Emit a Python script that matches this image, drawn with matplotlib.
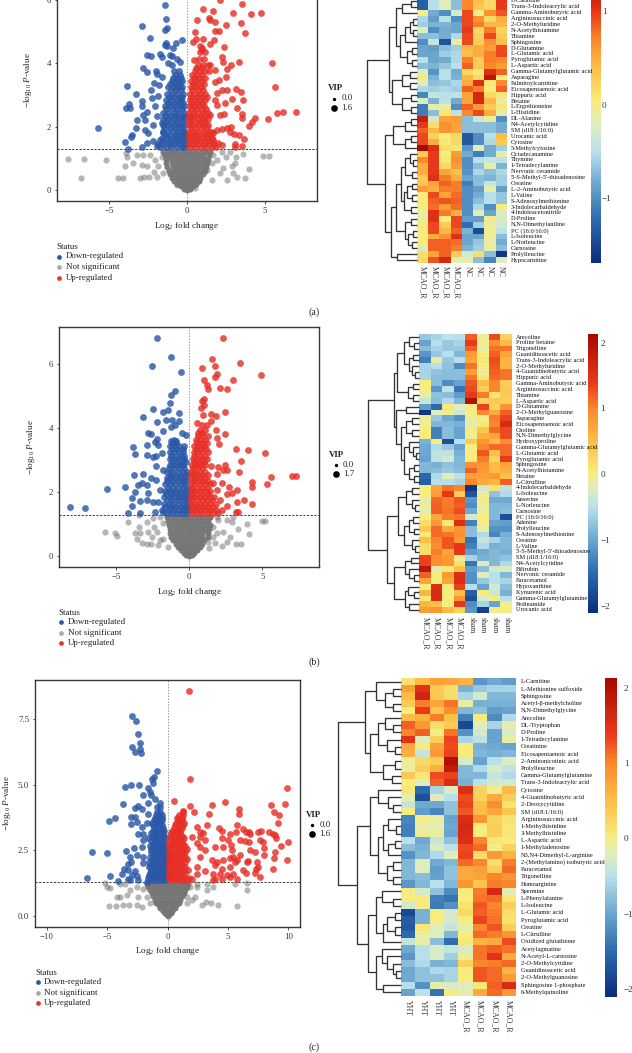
import numpy as np
import matplotlib
matplotlib.use("Agg")
import matplotlib.pyplot as plt
from matplotlib.colors import LinearSegmentedColormap, Normalize

W, H = 632, 1053
plt.rcParams['font.family'] = ['Liberation Serif', 'DejaVu Serif']
plt.rcParams['mathtext.fontset'] = 'custom'
plt.rcParams['mathtext.rm'] = 'Liberation Serif'
plt.rcParams['mathtext.it'] = 'Liberation Serif:italic'
plt.rcParams['mathtext.bf'] = 'Liberation Serif:bold'
TXT = '#222222'

# ---------------- volcano data: scattered points ----------------
a_down = [(-1.41,5.85),(-1.35,5.41),(-2.86,5.17),(-1.28,5.12),(-1.39,5.04),(-2.33,4.81),(-.32,4.73),(-.68,4.64),(-1.35,4.64),(-1.39,4.57),(-1.28,4.54),(-.9,4.48),(-2.56,4.26),(-2.31,4.25),(-1.69,4.31),(-1.58,4.2),(-1.07,4.27),(-.96,4.24),(-.62,4.15),(-.43,4.03),(-1.18,4.01),(-.96,3.96),(-2.78,3.85),(-2.54,3.72),(-1.97,3.77),(-1.88,3.67),(-1.6,3.57),(-3.82,3.29),(-3.25,3.05),(-2.31,3.17),(-2.09,3.38),(-1.75,3.33),(-2.9,2.82),(-3.68,2.71),(-3.91,2.6),(-3.63,2.59),(-2.88,2.66),(-2.03,2.66),(-2.56,2.48),(-2.82,2.38),(-2.24,2.91),(-1.82,2.96),(-3.16,2.2),(-3.25,1.95),(-5.68,1.97),(-2.65,2.22),(-2.14,2.06),(-2.67,1.91),(-3.53,1.75),(-3.57,1.69),(-3.93,1.51),(-3.74,1.31),(-2.86,1.37),(-2.46,1.8),(-2.14,1.54),(-2.56,1.48),(-1.92,1.38),(-1.71,1.59),(-1.5,1.85),(-1.56,2.12),(-1.92,2.33)]
a_up = [(3.57,5.88),(2.14,6.0),(1.05,5.72),(1.71,5.67),(2.97,5.58),(4.12,5.56),(4.79,5.58),(.66,5.38),(1.41,5.43),(1.79,5.32),(3.5,5.29),(2.5,5.22),(1.5,5.38),(1.82,5.03),(2.05,5.01),(3.76,4.96),(.53,4.98),(.6,4.77),(1.07,4.77),(1.73,4.75),(.38,4.67),(1.5,4.62),(2.39,4.51),(.85,4.54),(.96,4.43),(2.24,4.2),(2.31,4.06),(.49,4.11),(3.33,4.05),(5.45,4.02),(2.84,3.95),(2.61,3.83),(1.82,3.78),(1.5,3.96),(2.52,3.57),(2.05,3.48),(1.82,3.43),(5.66,3.25),(3.16,3.2),(3.46,3.11),(2.56,3.17),(2.24,3.15),(1.92,3.06),(1.82,2.85),(2.93,2.88),(3.59,2.84),(2.46,2.75),(1.92,2.69),(3.23,2.58),(7.03,2.48),(6.15,2.47),(5.77,2.45),(5.21,2.25),(4.36,2.29),(3.55,2.4),(3.57,2.29),(2.39,2.41),(2.14,2.38),(1.5,2.38),(4.17,2.15),(4.02,2.02),(2.56,1.96),(2.82,1.99),(2.24,1.93),(1.92,1.91),(2.74,1.85),(3.06,1.76),(3.33,1.75),(3.65,1.61),(3.1,1.45),(3.53,1.38),(3.1,1.37),(2.03,1.48),(2.24,1.43),(1.71,1.59),(1.71,1.8)]
a_ns = [(-7.63,.99),(-6.6,.98),(-5.21,.95),(-6.75,.4),(-4.44,.4),(-4.08,.39),(-3.97,.76),(-3.89,1.17),(-3.85,1.06),(-3.42,.85),(-3.03,.4),(-2.71,.43),(-2.39,.43),(-3.21,1.12),(-2.78,1.12),(-2.35,1.12),(-2.88,.8),(-2.56,.75),(-2.03,.96),(-2.09,.59),(-1.82,.75),(-1.92,.43),(-1.6,1.06),(-1.5,.54),(-.64,.17),(4.89,1.08),(5.3,1.09),(3.59,1.15),(4.02,.67),(3.76,.39),(3.16,1.06),(3.1,.85),(2.88,.75),(3.21,.43),(2.56,.33),(2.99,.54),(2.14,.54),(2.35,.7),(2.52,1.06),(2.78,1.22),(1.71,1.12),(1.92,.96),(1.6,.85),(1.28,.64),(1.6,.33),(.53,.06),(2.24,1.22)]

b_down = [(-2.21,6.83),(-1.23,6.23),(-2.53,5.95),(-.59,5.76),(-1.0,5.16),(-1.23,5.05),(-1.34,4.81),(-2.46,4.61),(-1.48,4.59),(-1.78,4.5),(-.68,4.47),(-3.14,4.36),(-2.23,4.19),(-1.59,4.26),(-1.21,4.26),(-.73,4.22),(-.98,4.1),(-1.28,4.03),(-1.82,3.93),(-2.82,3.85),(-2.62,3.81),(-.52,3.86),(-.25,3.78),(-2.19,3.66),(-2.35,3.58),(-2.87,3.47),(-2.16,3.48),(-3.85,3.42),(-3.71,3.19),(-2.92,3.17),(-2.51,3.11),(-2.28,3.14),(-1.89,3.22),(-2.28,2.84),(-3.8,2.54),(-3.14,2.58),(-5.65,2.11),(-4.4,2.18),(-3.51,2.22),(-3.26,2.3),(-2.92,2.23),(-2.64,2.44),(-2.3,2.39),(-3.69,2.0),(-3.9,1.82),(-3.35,1.73),(-2.92,1.76),(-3.9,1.57),(-8.18,1.53),(-7.15,1.52),(-4.21,1.36),(-3.39,1.36),(-2.8,1.97),(-2.46,1.71),(-2.35,1.4),(-1.78,1.4),(-2.0,2.07),(-2.12,1.71),(-1.78,2.7)]
b_up = [(2.32,6.83),(1.53,6.17),(3.46,6.04),(1.73,5.95),(.89,5.88),(1.89,5.71),(4.9,5.68),(1.75,5.6),(3.0,5.52),(1.03,5.5),(1.23,5.35),(1.25,5.23),(2.1,5.26),(2.57,5.22),(1.0,4.92),(.84,4.85),(.98,4.73),(.8,4.63),(2.41,4.5),(1.46,4.45),(.96,4.42),(1.8,4.38),(1.46,4.23),(.55,4.16),(1.82,3.95),(2.41,3.82),(1.87,3.69),(2.03,3.51),(3.19,3.36),(3.99,3.32),(5.19,3.24),(3.55,2.99),(1.46,2.83),(2.41,2.86),(3.37,2.64),(1.98,2.8),(2.32,2.7),(2.6,2.7),(5.56,2.48),(7.02,2.51),(7.33,2.51),(4.31,2.34),(4.31,2.18),(5.33,2.27),(2.73,2.16),(3.28,2.08),(2.55,1.95),(2.89,1.97),(3.71,1.77),(3.28,1.71),(4.28,1.63),(2.55,1.57),(3.19,1.39),(3.33,1.39),(2.21,2.28),(1.87,2.07),(2.1,1.76),(2.21,1.45),(1.64,2.28),(1.87,2.59)]
b_ns = [(-4.17,1.08),(-5.74,.77),(-5.08,.74),(-4.94,.65),(-3.71,.72),(-3.6,.56),(-3.26,.41),(-2.92,.39),(-2.64,.39),(-3.42,1.29),(-3.42,.93),(-2.92,1.08),(-2.46,1.19),(-2.41,.93),(-2.8,.77),(-2.23,.77),(-2.57,.61),(-2.0,.51),(-2.12,.35),(-1.78,.56),(-1.44,.3),(-1.78,1.03),(-2.0,1.24),(-3.37,.72),(4.94,1.1),(5.17,1.1),(3.92,1.01),(3.35,.87),(4.1,.7),(3.19,.39),(3.51,.38),(2.78,.61),(2.55,.46),(2.21,.33),(1.75,.43),(1.37,.25),(1.3,.46),(1.87,.72),(2.32,.77),(1.64,.93),(1.98,1.14),(2.55,1.14),(3.0,1.24),(2.89,1.08),(1.87,1.24),(1.41,1.24),(1.64,.61),(1.18,.72)]

c_down = [(-2.93,7.62),(-2.6,7.42),(-2.49,6.94),(-2.27,6.61),(-2.98,6.45),(-2.29,6.38),(-2.68,6.25),(-2.18,6.21),(-.86,5.54),(-1.13,5.3),(-1.33,5.24),(-1.24,5.08),(-3.07,4.99),(-2.38,4.98),(-3.54,4.92),(-1.6,4.89),(-1.46,4.73),(-2.04,4.6),(-1.41,4.6),(-1.05,4.47),(-.64,4.31),(-1.66,4.31),(-3.7,4.27),(-2.46,4.18),(-2.73,4.1),(-2.13,4.08),(-1.6,3.9),(-3.07,3.77),(-2.68,3.77),(-4.36,3.74),(-4.83,3.6),(-3.07,3.52),(-2.51,3.58),(-1.74,3.55),(-2.15,3.37),(-2.43,3.14),(-2.02,3.14),(-2.02,2.88),(-1.6,2.95),(-2.82,2.58),(-6.24,2.45),(-5.0,2.4),(-3.45,2.48),(-2.15,2.63),(-2.51,2.31),(-3.12,2.25),(-2.07,2.25),(-3.07,2.06),(-3.26,1.99),(-2.02,2.0),(-3.62,1.8),(-3.29,1.74),(-2.71,1.72),(-3.81,1.61),(-4.81,1.5),(-6.66,1.45),(-2.98,1.55),(-2.51,1.51),(-4.14,1.33),(-3.12,1.36),(-2.43,1.36),(-1.74,1.3),(-3.26,1.42)]
c_up = [(1.74,8.59),(1.85,5.22),(9.92,4.89),(.52,4.4),(4.75,4.35),(1.85,4.18),(3.65,4.21),(8.56,4.24),(9.75,4.26),(5.94,4.08),(5.91,3.89),(3.43,3.88),(8.78,3.96),(9.25,3.86),(2.15,3.95),(1.24,3.99),(9.14,3.56),(3.29,3.47),(5.77,3.48),(2.43,3.38),(4.28,3.35),(4.48,3.23),(6.22,3.33),(6.46,3.2),(6.77,3.19),(7.76,3.23),(8.37,3.21),(7.46,3.18),(5.64,3.19),(5.17,3.14),(2.68,3.2),(2.96,3.16),(8.76,3.11),(8.9,3.07),(6.82,3.14),(2.68,3.01),(3.09,2.88),(1.99,3.01),(4.48,2.95),(5.03,2.88),(6.0,2.88),(6.41,2.86),(6.77,2.82),(7.65,2.88),(7.93,2.82),(8.98,2.95),(9.97,2.8),(9.36,2.66),(3.92,2.63),(4.61,2.63),(5.22,2.69),(5.3,2.5),(6.82,2.5),(7.98,2.57),(8.92,2.45),(8.01,2.31),(7.24,2.44),(3.09,2.5),(2.68,2.63),(2.4,2.76),(9.86,2.13),(8.84,2.2),(3.65,2.12),(4.06,2.06),(4.56,2.12),(5.17,2.19),(5.72,2.12),(6.69,2.1),(7.38,2.06),(5.44,2.25),(6.0,2.31),(2.68,2.25),(2.4,1.87),(3.09,1.7),(3.92,1.93),(4.48,1.8),(5.17,1.87),(5.58,2.06),(6.27,1.74),(6.6,2.06),(7.32,1.78),(8.73,1.78),(7.51,1.87),(3.78,1.59),(4.34,1.61),(4.89,1.55),(5.44,1.61),(6.49,1.65),(7.24,1.64),(7.68,1.49),(2.4,1.59),(1.99,1.4),(3.78,1.36),(4.48,1.39),(5.17,1.49),(5.77,1.4),(3.92,1.39)]
c_ns = [(-5.19,1.26),(-5.0,1.11),(-4.78,1.07),(-4.83,.39),(-4.25,.39),(-3.67,.43),(-3.4,.79),(-4.23,.7),(-3.95,.72),(-3.12,.98),(-3.18,.41),(-2.57,.41),(-2.15,.34),(-2.43,.72),(-2.02,1.04),(-2.57,1.11),(-3.54,1.23),(-1.74,.72),(-1.46,.47),(-3.95,1.23),(6.57,1.26),(6.6,.98),(5.61,1.23),(5.72,.39),(4.2,.43),(3.78,1.11),(3.23,.98),(3.23,1.23),(3.56,.5),(3.18,.53),(2.82,.43),(2.4,1.11),(2.27,.72),(1.99,.6),(1.57,.47),(1.85,1.11),(2.4,1.23),(1.57,.72)]

# ---------------- volcano data: dense cores, (y, [x...]) rows ----------------
a_down_core = [(1.35,[-1.7,-1.35,-1.0,-.65,-.3,-.15]),(1.45,[-1.85,-1.5,-1.15,-.8,-.45,-.12]),(1.55,[-1.5,-1.15,-.8,-.5,-.2]),(1.65,[-1.6,-1.25,-.9,-.6,-.3,-.12]),(1.75,[-1.4,-1.05,-.7,-.35,-.18]),(1.85,[-1.55,-1.2,-.85,-.55,-.25,-.12]),(1.95,[-1.45,-1.1,-.8,-.5,-.22]),(2.05,[-1.55,-1.2,-.85,-.5,-.15]),(2.15,[-1.35,-1.0,-.65,-.3]),(2.25,[-1.5,-1.2,-.85,-.5,-.15]),(2.35,[-1.4,-1.1,-.75,-.45,-.2]),(2.45,[-1.5,-1.2,-.85,-.55,-.15]),(2.55,[-1.3,-.95,-.6,-.28]),(2.65,[-1.4,-1.1,-.75,-.4,-.2]),(2.75,[-1.2,-.85,-.5,-.25]),(2.85,[-1.3,-1.0,-.65,-.35]),(2.95,[-1.15,-.8,-.45,-.3]),(3.05,[-1.25,-.95,-.6,-.25]),(3.15,[-1.0,-.7,-.4]),(3.25,[-1.2,-.85,-.55,-.3]),(3.35,[-1.05,-.75,-.45]),(3.45,[-.95,-.6,-.3]),(3.55,[-.9,-.6,-.35]),(3.65,[-.75,-.45]),(3.75,[-.8,-.5])]
a_up_core = [(1.35,[.2,.55,.9,1.25,1.6,1.85]),(1.45,[.12,.4,.75,1.1,1.4,1.75]),(1.55,[.2,.5,.85,1.2,1.5]),(1.65,[.12,.35,.65,1.0,1.3,1.6]),(1.75,[.15,.45,.8,1.15,1.45]),(1.85,[.12,.4,.75,1.1,1.4,1.6]),(1.95,[.25,.6,.95,1.3]),(2.05,[.15,.35,.7,1.05,1.35]),(2.15,[.15,.5,.85,1.2]),(2.25,[.12,.35,.7,1.05,1.35]),(2.35,[.2,.55,.9,1.2]),(2.45,[.15,.4,.75,1.05,1.35]),(2.55,[.25,.6,.95,1.25]),(2.65,[.2,.45,.8,1.1]),(2.75,[.3,.65,1.0]),(2.85,[.2,.5,.85,1.15]),(2.95,[.3,.65,1.0,1.3]),(3.05,[.2,.5,.85,1.15]),(3.15,[.35,.7,1.05]),(3.25,[.25,.55,.9]),(3.35,[.4,.75,1.1]),(3.45,[.3,.6,.95]),(3.55,[.45,.8,1.15]),(3.65,[.35,.65,1.0]),(3.75,[.5,.85,1.2,1.45]),(3.85,[.6,.95]),(3.95,[.7,1.05,1.35]),(4.15,[.8,1.1]),(4.35,[.85,1.15]),(4.5,[.95])]
a_ns_core = [(1.22,[-1.5,-1.2,-.9,-.6,-.3,0,.3,.6,.9,1.2,1.5]),(1.1,[-1.4,-1.05,-.75,-.45,-.15,.15,.45,.75,1.05,1.4]),(.98,[-1.35,-1.0,-.7,-.4,-.1,.2,.5,.8,1.1,1.35]),(.86,[-1.3,-.95,-.65,-.35,-.05,.25,.55,.85,1.15,1.3]),(.74,[-1.25,-.9,-.6,-.3,0,.3,.6,.9,1.25]),(.62,[-1.15,-.85,-.55,-.25,.05,.35,.65,.95,1.15]),(.5,[-1.05,-.75,-.45,-.15,.15,.45,.75,1.05]),(.4,[-.95,-.65,-.35,-.05,.25,.55,.85]),(.3,[-.8,-.5,-.2,.1,.4,.7,.8]),(.2,[-.6,-.3,0,.3,.6]),(.12,[-.4,-.15,.15,.4]),(.05,[-.2,0,.2]),(.01,[0])]

b_down_core = [(1.35,[-1.55,-1.2,-.85,-.5,-.2]),(1.45,[-1.85,-1.4,-1.05,-.7,-.35,-.12]),(1.55,[-1.65,-1.3,-.95,-.6,-.3,-.12]),(1.65,[-1.75,-1.4,-1.1,-.75,-.4,-.15]),(1.75,[-1.5,-1.15,-.8,-.45,-.15]),(1.85,[-1.7,-1.35,-1.0,-.7,-.35,-.12]),(1.95,[-1.6,-1.25,-.9,-.55,-.2]),(2.05,[-1.65,-1.3,-.95,-.6,-.25]),(2.15,[-1.45,-1.1,-.75,-.4,-.15]),(2.25,[-1.65,-1.3,-.95,-.6,-.3]),(2.35,[-1.5,-1.15,-.8,-.45,-.2]),(2.45,[-1.55,-1.3,-1.0,-.65,-.3]),(2.55,[-1.3,-.95,-.6,-.25]),(2.65,[-1.5,-1.15,-.8,-.45,-.15]),(2.75,[-1.4,-1.05,-.7,-.35]),(2.85,[-1.35,-1.0,-.65,-.4]),(2.95,[-1.2,-.85,-.5,-.25]),(3.05,[-1.35,-1.05,-.7,-.35]),(3.15,[-1.25,-.9,-.55,-.35]),(3.25,[-1.35,-1.05,-.7,-.4]),(3.35,[-1.15,-.85,-.45]),(3.45,[-1.3,-1.0,-.7,-.35]),(3.55,[-1.2,-.9]),(3.6,[-1.25,-.9]),(3.65,[-1.05])]
b_up_core = [(1.35,[.2,.55,.9,1.25,1.6,1.95]),(1.45,[.1,.4,.75,1.1,1.45,1.8]),(1.55,[.25,.6,.95,1.3,1.65]),(1.65,[.1,.4,.75,1.1,1.45,1.85]),(1.75,[.15,.5,.85,1.2,1.55]),(1.85,[.1,.35,.7,1.05,1.4,1.7]),(1.95,[.2,.55,.9,1.25]),(2.05,[.1,.35,.7,1.05,1.4]),(2.15,[.2,.5,.85,1.2]),(2.25,[.12,.35,.7,1.05,1.4]),(2.35,[.25,.6,.95,1.3]),(2.45,[.12,.4,.75,1.1]),(2.55,[.2,.55,.9,1.25]),(2.65,[.15,.4,.75,1.1]),(2.75,[.25,.55,.9]),(2.85,[.2,.45,.75,1.1]),(2.95,[.3,.65,1.0]),(3.05,[.25,.5,.85,1.2]),(3.15,[.35,.7,1.05]),(3.25,[.3,.55,.9,1.3]),(3.35,[.45,.8,1.15]),(3.45,[.35,.65,1.0]),(3.55,[.5,.85,1.2]),(3.65,[.45,.75,1.1]),(3.75,[.6,.95,1.25]),(3.85,[.6,.9]),(3.95,[.75,1.05]),(4.1,[.9,1.2])]
b_ns_core = [(1.22,[-1.5,-1.2,-.9,-.6,-.3,0,.3,.6,.9,1.2,1.45]),(1.1,[-1.45,-1.1,-.8,-.5,-.2,.1,.4,.7,1.0,1.3]),(.98,[-1.4,-1.05,-.75,-.45,-.15,.15,.45,.75,1.05,1.4]),(.86,[-1.35,-1.0,-.7,-.4,-.1,.2,.5,.8,1.1,1.35]),(.74,[-1.3,-.95,-.65,-.35,-.05,.25,.55,.85,1.3]),(.62,[-1.25,-.9,-.6,-.3,0,.3,.6,.9,1.25]),(.5,[-1.1,-.8,-.5,-.2,.1,.4,.7,1.0]),(.4,[-.9,-.6,-.3,0,.3,.6,.9]),(.3,[-.75,-.45,-.15,.15,.45,.75]),(.2,[-.55,-.25,.05,.3,.55]),(.12,[-.35,-.1,.15,.35]),(.05,[-.2,0,.2]),(.01,[0])]

c_down_core = [(1.35,[-1.45,-1.1,-.8,-.5,-.2]),(1.45,[-1.65,-1.3,-.95,-.65,-.35,-.12]),(1.55,[-1.55,-1.25,-.9,-.55,-.15]),(1.65,[-1.5,-1.15,-.8,-.45,-.12]),(1.75,[-1.35,-1.0,-.65,-.3]),(1.85,[-1.55,-1.2,-.9,-.55,-.25]),(1.95,[-1.45,-1.1,-.75,-.35,-.15]),(2.05,[-1.55,-1.2,-.85,-.5,-.12]),(2.15,[-1.3,-.95,-.6,-.25]),(2.25,[-1.45,-1.1,-.75,-.4,-.15]),(2.35,[-1.2,-.85,-.5,-.2]),(2.45,[-1.4,-1.05,-.7,-.35,-.15]),(2.55,[-1.35,-1.0,-.65,-.3]),(2.65,[-1.5,-1.15,-.8,-.45,-.2]),(2.75,[-1.25,-.9,-.55,-.25]),(2.85,[-1.4,-1.05,-.7,-.4]),(2.95,[-1.15,-.8,-.45,-.25]),(3.05,[-1.3,-.95,-.6,-.3]),(3.15,[-1.35,-1.0,-.65,-.35]),(3.25,[-1.2,-.85,-.5,-.3]),(3.35,[-1.1,-.75,-.4]),(3.45,[-1.2,-.85,-.5]),(3.55,[-1.3,-.95,-.6]),(3.65,[-1.15,-.8,-.5]),(3.75,[-1.05,-.7,-.45]),(3.85,[-1.0,-.7,-.45]),(3.95,[-.9,-.6]),(4.15,[-.85,-.6])]
c_up_core = [(1.35,[.2,.55,.9,1.25,1.6]),(1.45,[.1,.35,.7,1.05,1.4,1.75]),(1.55,[.15,.5,.85,1.2]),(1.65,[.1,.4,.75,1.1,1.45]),(1.75,[.25,.6,.95,1.3,1.65]),(1.85,[.1,.35,.7,1.05,1.4]),(1.95,[.15,.5,.85,1.2]),(2.05,[.1,.35,.7,1.05,1.4]),(2.15,[.2,.55,.9,1.25,1.6]),(2.25,[.1,.4,.75,1.1,1.45]),(2.35,[.25,.6,.95,1.3]),(2.45,[.12,.4,.75,1.1,1.45]),(2.55,[.2,.55,.9,1.25,1.6]),(2.65,[.12,.4,.75,1.1,1.45]),(2.75,[.25,.6,.95,1.3]),(2.85,[.15,.45,.8,1.15]),(2.95,[.3,.65,1.0,1.35]),(3.05,[.2,.5,.85,1.2]),(3.15,[.3,.65,1.0]),(3.25,[.4,.75,1.05]),(3.35,[.55,.9,1.2]),(3.45,[.6,.95,1.25]),(3.55,[.7,1.05,1.35]),(3.65,[.85,1.2]),(3.75,[.75,1.15]),(3.85,[.95,1.25]),(3.95,[1.3])]
c_ns_core = [(1.22,[-1.7,-1.35,-1,-.65,-.3,.05,.4,.75,1.1,1.45,1.7]),(1.1,[-1.6,-1.2,-.85,-.5,-.15,.2,.55,.9,1.25,1.6]),(.98,[-1.45,-1.1,-.75,-.4,-.05,.3,.65,1.0,1.45]),(.86,[-1.3,-.95,-.6,-.25,.1,.45,.8,1.15,1.35]),(.74,[-1.2,-.85,-.5,-.15,.2,.55,.9,1.2]),(.62,[-1.05,-.7,-.35,0,.35,.7,1.05]),(.5,[-.95,-.6,-.25,.1,.45,.8,.95]),(.4,[-.75,-.4,-.05,.3,.65]),(.3,[-.6,-.25,.1,.45,.6]),(.2,[-.4,-.1,.2,.4]),(.12,[-.25,0,.25]),(.05,[-.12,.12]),(.01,[0])]

# ---------------- heatmap data ----------------
a_rows = ["L-Carnitine","Trans-3-Indoleacrylic acid","Gamma-Aminobutyric acid","Argininosuccinic acid","2'-O-Methyluridine","N-Acetylhistamine","Thiamine","Sphingosine","D-Glutamine","L-Glutamic acid","Pyroglutamic acid","L-Aspartic acid","Gamma-Glutamylglutamic acid","Asparagine","Palmitoylcarnitine","Eicosapentaenoic acid","Hippuric acid","Betaine","L-Ergothioneine","L-Histidine","DL-Alanine","N4-Acetylcytidine","SM (d18:1/16:0)","Urocanic acid","Cytosine","5-Methylcytosine","Octadecanamine","Thymine","1-Tetradecylamine","Nervonic ceramide","5'-S-Methyl-5'-thioadenosine","Creatine","L-2-Aminobutyric acid","L-Valine","S-Adenosylmethionine","3-Indolecarbaldehyde","4-Indoleacetonitrile","D-Proline","N,N-Dimethylaniline","PC (16:0/16:0)","L-Isoleucine","L-Norleucine","Carnosine","Prolylleucine","Hypocarnitine"]
a_vals = [[-1.3,-.5,-.2,-.7,.7,.4,.2,1.0],[-1.3,-.5,-.2,-.7,.7,.35,.2,1.0],[0,-.8,-1.0,-.3,.95,0,.65,.9],[-.55,-.9,-.5,-1,.95,.65,.2,.5],[-.6,-.75,-.75,-.85,.95,.75,.45,.45],[-.2,-1,-.8,-.85,1.0,.2,.75,.25],[-.7,-.7,-.8,-.55,.95,.25,.95,.3],[-1,-.4,-1.4,-.1,.95,.3,.65,.4],[-.85,-.9,-.7,-.6,.45,.5,.6,.95],[-.85,-.85,-.6,-.55,.4,.5,.75,.95],[-.5,-.85,-.8,-.55,.75,.3,.75,.7],[-.7,-.75,-.65,-.5,.85,.3,.7,.6],[-.2,-.95,-.5,-.8,.2,.1,1.05,.85],[.05,-.75,-.5,-.75,.45,.2,1.2,.05],[-.15,-.7,-.65,-.55,.5,1.05,.1,.7],[-.55,-.6,-.55,-.6,.85,.75,.05,.85],[-1.05,-.4,-.5,-.45,.55,1.1,.2,.1],[-.25,-.75,-.45,-.8,.55,1.1,.45,-.1],[-1.1,-.1,-.1,-1,.85,.6,.3,.1],[-1.1,-.7,.1,-.45,.7,.95,.5,-.1],[1.15,-.3,.55,.6,-.7,-.35,-.05,-1],[1.0,.15,.65,.55,-.7,-.7,-.7,-.8],[.85,.45,.65,.55,-.7,-.7,-.7,-.8],[.95,.25,.05,.2,-1.35,-1.0,-.5,.4],[.95,.5,.1,.2,-1.35,-1,-.55,.3],[1.3,1.05,.15,.1,-.95,-.2,-.8,-.6],[.3,1.0,.05,.6,-.8,-1.1,-.8,-.15],[.7,1.0,.1,.65,-1,-.5,-.4,-.45],[.5,1.0,.2,.6,-1,-.7,-.15,-.75],[.5,1,.55,.4,-.95,-.55,-.7,-.55],[.3,1.05,.75,.5,-.85,-.7,-.75,-.6],[.35,.55,.85,.75,-1.1,-.7,-.4,-.6],[.6,.5,.75,.75,-1,-.9,-.15,-.9],[.05,.95,.55,.8,-1,-.8,-.5,-.65],[.05,.85,.9,.85,-1,-.7,-.5,-.65],[.05,.8,.6,.8,-1,-.55,-1,.05],[-.1,1.05,.75,.5,-1,-.2,-.85,-.25],[-.1,1.05,.05,.95,-.9,-.9,0,-.25],[.05,.95,.3,.95,-1.2,-.6,-.1,-.3],[.05,.95,.45,.85,-.75,-1.45,-.05,-.45],[.05,.5,.65,1.05,-.85,-.85,-.05,-.7],[.05,.85,.85,.8,-.85,-.65,-.1,-.8],[-.25,.85,.85,.75,-.75,-.6,-.1,-.7],[.15,.55,.85,.3,-.3,.15,-.7,-1.6],[.2,.9,1.1,-.15,-.15,-.7,-1.05,-.2]]
a_cols = ["MCAO_R"]*4 + ["NC"]*4

b_rows = ["Arecoline","Proline betaine","Trigonelline","Guanidinoacetic acid","Trans-3-Indoleacrylic acid","2'-O-Methyluridine","4-Guanidinobutyric acid","Hippuric acid","Gamma-Aminobutyric acid","Argininosuccinic acid","Thiamine","L-Aspartic acid","D-Glutamine","2'-O-Methylguanosine","Asparagine","Eicosapentaenoic acid","Choline","N,N-Dimethylglycine","Hydroxyproline","Gamma-Glutamylglutamic acid","L-Glutamic acid","Pyroglutamic acid","Sphingosine","N-Acetylhistamine","Betaine","L-Citrulline","4-Indolecarbaldehyde","L-Isoleucine","Anserine","L-Norleucine","Carnosine","PC (16:0/16:0)","Adenine","Prolylleucine","S-Adenosylmethionine","Creatine","L-Valine","5'-S-Methyl-5'-thioadenosine","SM (d18:1/16:0)","N4-Acetylcytidine","Bilirubin","Nervonic ceramide","Paracetamol","Hypoxanthine","Kynurenic acid","Gamma-Glutamylglutamine","Pedinamide","Urocanic acid"]
b_vals = [[-.7,-.6,-.45,-.5,1.2,-.1,1.3,.3],[-1.0,-.5,-.7,-.6,1.4,0,.95,.55],[-.8,-.6,-.7,-.7,1.2,-.1,1.1,1.1],[-1.1,-.7,-.5,-.85,.85,.05,1.2,.75],[-1.3,-.1,-.7,-.5,.75,.1,1.3,.6],[-.6,-.5,-.75,-1.2,1.1,.05,1.25,.6],[-.6,-.75,-.8,-.8,.8,-.1,1.2,1.1],[-.6,-.8,-.8,-.8,1.1,.1,1.15,1.1],[.05,-.8,-1.2,-1.0,1.25,.5,1.0,.35],[.05,-1.1,-.45,-1.4,1.3,.35,1.0,.4],[-.1,-.75,-.8,-1.05,1.4,1.05,.1,.4],[-.4,-.8,-.55,-.85,2.0,.3,.4,.35],[-1.05,-1.5,.1,-.2,0,1.35,.3,.9],[-2.0,-.2,-.05,-.35,0,1.0,.7,1.2],[-.05,-.7,-.95,-1.15,-.05,0,1.05,1.35],[-.05,-.85,-.85,-.9,-.15,.1,1.0,1.6],[.05,-1.3,-.8,-1.0,.05,.45,1.15,1.3],[.05,-1.3,-.8,-1.0,-.05,.65,.75,1.3],[-.9,.05,-1.75,-.5,.4,.9,.55,.95],[-.95,-.55,-.7,-1.0,.05,1,1.15,1.15],[-.95,-.45,-.45,-.9,.05,1.25,.5,1.15],[-1,-.45,-.3,-.85,.05,1.05,.3,1.4],[-.85,-.9,-.75,-.85,.95,.9,.55,.75],[-.85,-.8,-.7,-.8,1.2,.85,.55,.65],[-1.5,-.55,-.2,-.45,.8,.8,.85,.5],[-1.6,-.5,-.5,-.6,1.0,.7,.6,1.2],[.05,.75,1.1,1.0,-2,-.3,.15,-.45],[.05,.8,1.45,.35,-1.7,-.1,-.75,-.55],[-.15,1.15,1.05,1.25,-1.1,.05,-.95,-.95],[0,1.2,1.05,1.2,-1.2,-.1,-.85,-.85],[-.2,1.2,1.1,1.3,-.95,-.1,-.85,-.8],[.05,.7,1.05,1.1,-.3,.05,-.85,-1.75],[.2,.85,.1,1.55,-1.3,0,-1.0,-1.05],[.4,1.15,.7,.9,-.8,-.1,-1.15,-1.15],[.1,1.15,1.1,.95,-.8,-.55,-1.25,-.9],[.5,1.0,1.25,.85,-1.4,-.4,-.6,-.85],[.2,.95,1.25,1.45,-1.3,-.55,-.9,-.85],[.2,1.05,.75,1.45,-1.05,-.95,-.85,-.9],[1.35,.95,.85,-.05,-.6,-.9,-.85,-.75],[1.35,.95,.85,.15,-1.4,-.2,-.85,-.55],[1.9,-.15,.1,.5,-1.05,-.8,-.3,-.25],[1.2,.05,.85,1.55,-1.15,-.2,-.5,-.85],[.75,.05,.75,1.55,-1.15,-.7,-.5,-.6],[.05,1.55,.05,1.35,-.5,-1.0,-.3,-.8],[.6,1.6,.05,.5,-1.6,.05,-.35,-.9],[.1,1.6,.05,.9,-1.75,-.25,.05,-.5],[.6,.5,.05,1.45,-1.2,-.6,-1,0],[.8,.9,.55,.3,-1.1,-1.9,0,.05]]
b_cols = ["MCAO_R"]*4 + ["sham"]*4

c_rows = ["L-Carnitine","L-Methionine sulfoxide","Sphingosine","Acetyl-β-methylcholine","N,N-Dimethylglycine","Arecoline","DL-Tryptophan","D-Proline","1-Tetradecylamine","Creatinine","Eicosapentaenoic acid","2-Aminonicotinic acid","Prolylleucine","Gamma-Glutamylglutamine","Trans-3-Indoleacrylic acid","Cytosine","4-Guanidinobutyric acid","2'-Deoxycytidine","SM (d18:1/16:0)","Argininosuccinic acid","1-Methylhistidine","3-Methylhistidine","L-Aspartic acid","1-Methyladenosine","N3,N4-Dimethyl-L-arginine","2-(Methylamino) isobutyric acid","Paracetamol","Trigonelline","Homoarginine","Spermine","L-Phenylalanine","L-Isoleucine","L-Glutamic acid","Pyroglutamic acid","Creatine","L-Citrulline","Oxidized glutathione","Acetylagmatine","N-Acetyl-L-carnosine","2'-O-Methylcytidine","Guanidinoacetic acid","2'-O-Methylguanosine","Sphingosine 1-phosphate","6-Methylquinoline"]
c_vals = [[.15,.55,.8,.75,.6,-1.1,-.95,-1.05],[.8,1.5,.4,.2,-.9,-.7,-.6,-.6],[.55,1.7,.4,.2,-.6,-.3,-.85,-.85],[.4,1.05,.75,1.1,-.1,-.9,-.9,-.9],[.05,1.4,.45,.95,-.85,-.75,-1.05,-1.0],[.55,.65,1.05,.5,-1.3,.05,-1.2,-.55],[1.2,.85,.2,.4,-1.8,-.2,-.6,-.15],[1.0,1.2,0,1.1,-1.15,-.3,-1.0,-.25],[1.5,-.2,.35,1.35,-.6,-.45,-1.0,-.1],[.7,.05,.8,1.3,.05,-.9,-.95,-1.0],[.65,-.4,.85,1.35,.05,-.85,-.9,-.85],[-.05,.25,.35,2.0,-.25,-1.0,-.5,-.2],[-.1,.35,.65,1.85,-.85,-.55,-.25,-.45],[.4,.1,1.3,1.35,-.85,-.85,-.4,-.55],[.05,-.2,1.2,1.6,-.9,-.45,-.3,-.3],[.1,-1.5,-.6,-.25,1.55,.3,-.05,.55],[-.15,-1.75,-.2,-.5,1.3,.3,.7,.35],[-.4,-.95,-.95,-.75,1.35,.5,.95,.15],[.05,-1.05,-1.25,-.75,1.25,.55,.75,.45],[-1.25,0,-.1,-1.0,1.55,.9,.3,.15],[-1.3,-.15,-.15,-.95,1.65,.05,.35,.1],[-1.3,-.05,-.1,-1.0,1.6,.05,.35,.1],[-.5,-.95,-.4,-.75,1.55,1.0,.1,.05],[-.8,-.9,-.25,-.45,1.3,1.15,0,.3],[-1.15,-.85,-.55,-.2,1.35,.2,.85,.6],[-.85,-.2,-.95,-.85,1.15,1.0,.2,1.05],[-.85,-.2,-1.05,-.75,.7,.8,.35,1.15],[-.85,-.8,-1.0,-.75,.7,.75,1.0,.9],[-1.1,-.85,-.5,-.85,.9,.45,1.05,1.0],[0,-.3,-.75,-1.2,.05,1.05,1.65,-.15],[.05,.05,-1.3,-1.4,.05,1.1,1.15,.1],[-.3,0,-1.35,-1.15,.15,1.25,1.0,.35],[-1.8,-.9,.05,-.3,.25,1.2,1.05,.2],[-1.6,-.9,.05,-.3,.05,1.35,1.1,.15],[-1.65,.1,-.2,-.4,-.15,1.0,1.25,.35],[-1.5,-.1,-.2,-.85,.05,1.15,1.05,.9],[-.4,-.1,-.8,-1.45,.1,.6,.7,1.3],[-.95,-.5,-.25,-.4,-.25,1.1,1.2,1.1],[-1.1,-.5,-.25,-.65,-.05,1.1,1.5,.7],[-.8,-.55,-.9,-.85,.3,1.0,1.05,1.15],[-.95,-.75,-.55,-.6,.05,1.25,1.15,.6],[-.95,-.75,-.75,-.6,.05,1.25,1.15,.85],[-.5,-1.15,-.15,-.25,-.2,.1,1.2,1.6],[-1.0,-.45,-1.4,.05,-.15,.7,1.15,.85]]
c_cols = ["YHT"]*4 + ["MCAO_R"]*4

# ---------------- dendrograms: [depth, child, child]; 1 is a leaf ----------------
a_tree = [1.0,
  [.56,[.42,[.3,[.12,1,1],1],[.34,[.24,[.14,[.08,1,1],[.08,1,1]],1],[.2,[.1,1,1],[.1,1,1]]]],
       [.5,[.3,[.15,1,1],[.15,1,1]],[.3,[.12,1,1],[.12,1,1]]]],
  [.64,[.48,[.24,[.12,1,1],1],[.24,[.12,1,1],1]],
       [.52,[.42,[.32,[.24,[.14,1,[.08,1,1]],[.1,1,1]],[.26,[.2,[.1,1,1],[.1,1,1]],[.12,1,1]]],
                 [.24,[.12,1,1],[.18,[.08,1,1],[.1,1,1]]]],[.4,1,1]]]]
b_tree = [1.0,
  [.5,[.43,[.3,[.2,1,[.1,1,1]],[.2,[.12,1,1],[.15,1,[.08,1,1]]]],[.22,[.12,1,1],[.12,1,1]]],
      [.46,[.25,1,1],[.36,[.25,[.14,1,1],[.14,1,1]],[.3,[.2,1,[.12,1,[.07,1,1]]],[.2,[.1,1,1],[.1,1,1]]]]]],
  [.62,[.41,[.26,[.15,1,1],[.14,1,[.08,1,1]]],[.3,[.2,[.12,1,1],[.1,1,1]],[.14,1,[.08,1,1]]]],
       [.5,[.28,[.16,1,1],[.2,1,[.1,1,1]]],[.28,[.22,1,[.1,1,1]],[.2,1,1]]]]]
c_tree = [1.0,
  [.57,[.4,1,[.25,[.13,1,1],[.13,1,1]]],
       [.49,[.36,[.25,1,[.13,1,1]],[.22,1,[.1,1,1]]],[.28,[.1,1,1],[.15,1,1]]]],
  [.7,[.49,[.36,1,[.2,1,[.12,1,1]]],[.36,[.28,[.2,1,[.08,1,1]],[.2,[.1,1,1],1]],[.22,[.12,1,1],[.12,1,1]]]],
      [.52,[.4,[.3,1,[.12,1,1]],[.28,[.22,[.1,1,1],[.1,1,1]],1]],
           [.4,[.3,1,[.22,1,[.12,1,[.08,1,1]]]],[.28,1,1]]]]]

# ---------------- colour scales ----------------
stops_a = [(-1.68,'#0d2c7d'),(-1.2,'#2f6fb0'),(-.8,'#74add1'),(-.5,'#b8e0ec'),(-.2,'#dfeebd'),(.05,'#f8ec7c'),(.4,'#fdc049'),(.7,'#fb8a2d'),(1.0,'#ea3a1c'),(1.3,'#a60a00')]
stops_bc = [(-2.09,'#0d2c7d'),(-1.5,'#2a6aad'),(-1.0,'#69a5cf'),(-.5,'#b8e0ec'),(-.2,'#dfeebd'),(.05,'#f8ec7c'),(.5,'#fdc049'),(1.0,'#fb8a2d'),(1.4,'#ea3a1c'),(2.14,'#a60a00')]

def make_cmap(stops):
    lo, hi = stops[0][0], stops[-1][0]
    return LinearSegmentedColormap.from_list('c', [((v-lo)/(hi-lo), c) for v, c in stops], N=256), lo, hi

fig = plt.figure(figsize=(W/100, H/100), dpi=100, facecolor='white')

def ax_px(l, t, r, b, **kw):
    return fig.add_axes([l/W, 1-b/H, (r-l)/W, (b-t)/H], **kw)

def txt(x, y, s, size=6.4, **kw):
    kw.setdefault('va', 'center'); kw.setdefault('ha', 'left'); kw.setdefault('color', TXT)
    fig.text(x/W, 1-y/H, s, fontsize=size, **kw)

def expand(pts, core):
    xs = [p[0] for p in pts]; ys = [p[1] for p in pts]
    for y, row in core:
        xs += list(row); ys += [y]*len(row)
    return xs, ys

BLUE, RED, GREY = '#2a58a8', '#e62f27', '#6e6e6e'

def volcano(box, xlim, ylim, xt, yt, ylab_xy, xlab_xy, down, up, ns, leg, vip, vipmax, yfmt='%d'):
    ax = ax_px(*box)
    ax.set_xlim(xlim); ax.set_ylim(ylim)
    ax.axhline(1.3, color='#333333', lw=.7, ls=(0, (2.2, 1.6)), zorder=1)
    ax.axvline(0, color='#999999', lw=.7, ls=(0, (1.5, 1.5)), zorder=1)
    ax.scatter(*expand(ns[0], []), s=20, c=GREY, alpha=.5, lw=0, zorder=2)
    ax.scatter(*expand([], ns[1]), s=19, c='#757575', alpha=.95, lw=0, zorder=2)
    ax.scatter(*expand(*down), s=24, c=BLUE, alpha=.82, lw=0, zorder=3)
    ax.scatter(*expand(*up), s=24, c=RED, alpha=.82, lw=0, zorder=3)
    for sp in ax.spines.values():
        sp.set_linewidth(1.0); sp.set_color('#3a3a3a')
    ax.set_xticks(xt); ax.set_yticks(yt)
    ax.set_xticklabels([str(v).replace('-', '\u2212') for v in xt])
    ax.set_yticklabels([(yfmt % v) for v in yt])
    ax.tick_params(length=1.8, width=.6, color='#333333', labelsize=6.3, labelcolor='#333333', pad=2.5)
    txt(xlab_xy[0], xlab_xy[1], 'Log$_2$ fold change', ha='center', size=6.6)
    txt(ylab_xy[0], ylab_xy[1], '\u2212log$_{10}$ $\\mathit{P}$-value', ha='center', rotation=90, size=6.6)
    lx, ly = leg
    txt(lx, ly, 'Status')
    for k, (lab, col) in enumerate([('Down-regulated', BLUE), ('Not significant', '#a9a9a9'), ('Up-regulated', '#e8342d')]):
        yy = ly + 9.5 + k*10.6
        fig.add_artist(plt.Line2D([(lx+2.5)/W], [1-yy/H], marker='o', ms=3.4, mfc=col, mec='none', ls='none'))
        txt(lx+9, yy, lab)
    vx, vy = vip
    txt(vx, vy, 'VIP', size=6.4, fontweight='bold')
    for yy, ms, lab in [(vy+10, 2.4, '0.0'), (vy+19, 4.8, vipmax)]:
        fig.add_artist(plt.Line2D([(vx+6.3)/W], [1-yy/H], marker='o', ms=ms, mfc='black', mec='none', ls='none'))
        txt(vx+13.5, yy, lab)

def dendro(tree, x0, x1, top, rowh):
    state = {'n': 0}
    segs = []
    def walk(node):
        if node == 1:
            y = top + (state['n']+.5)*rowh
            state['n'] += 1
            return x1, y
        xa, ya = walk(node[1]); xb, yb = walk(node[2])
        x = x1 - node[0]*(x1-x0)
        segs.append(([xa, x, x, xb], [ya, ya, yb, yb]))
        return x, (ya+yb)/2
    walk(tree)
    ax = fig.add_axes([0, 0, 1, 1], facecolor='none')
    ax.set_xlim(0, W); ax.set_ylim(H, 0); ax.axis('off')
    for xs, ys in segs:
        ax.plot(xs, ys, color='#333333', lw=.95, solid_joinstyle='miter', solid_capstyle='butt', clip_on=True)
    return state['n']

def heatmap(vals, rows, cols, box, lab_x, tree, tree_x0, cbar_box, stops, ticks, bar_x, col_pad):
    l, t, r, b = box
    cmap, lo, hi = make_cmap(stops)
    norm = Normalize(lo, hi)
    arr = np.array(vals, float)
    ax = ax_px(l, t, r, b)
    ax.imshow(arr, cmap=cmap, norm=norm, aspect='auto', interpolation='nearest')
    ax.axis('off')
    rowh = (b-t)/len(rows); colw = (r-l)/len(cols)
    for i, name in enumerate(rows):
        txt(lab_x, t+(i+.5)*rowh, name, size=4.55, color='#111111')
    for j, name in enumerate(cols):
        txt(l+(j+.5)*colw, b+col_pad, name, size=5.6, rotation=270, ha='center', va='top', color='#333333')
    dendro(tree, tree_x0, l, t, rowh)
    cl, ct, cr, cb = cbar_box
    cax = ax_px(cl, ct, cr, cb)
    cax.imshow(np.linspace(hi, lo, 256)[:, None], cmap=cmap, norm=norm, aspect='auto', extent=[0, 1, lo, hi])
    cax.axis('off')
    for tv in ticks:
        ypx = cb - (tv-lo)/(hi-lo)*(cb-ct)
        txt(bar_x, ypx, str(tv).replace('-', '\u2212'), size=6.6, color='#333333')

# panel (a)
volcano((57, -25, 317, 201), (-8.32, 8.35), (-.34, 6.79), [-5, 0, 5], [0, 2, 4, 6], (28, 80), (186.7, 225.7),
        (a_down, a_down_core), (a_up, a_up_core), (a_ns, a_ns_core), (56.5, 247), (327.7, 88.5), '1.6')
heatmap(a_vals, a_rows, a_cols, (417.3, -2, 506.7, 263), 510.7, a_tree, 367, (590.7, -16, 600, 263), stops_a, [1, 0, -1], 602, 3)

# panel (b)
volcano((58.7, 327.3, 319.3, 567.3), (-8.93, 8.89), (-.34, 7.16), [-5, 0, 5], [0, 2, 4, 6], (30.7, 446.7), (189.3, 591.7),
        (b_down, b_down_core), (b_up, b_up_core), (b_ns, b_ns_core), (58.5, 612.7), (329.3, 455), '1.7')
heatmap(b_vals, b_rows, b_cols, (419.3, 334.3, 512, 612.7), 516, b_tree, 368, (588.3, 334.3, 598, 612.7), stops_bc, [2, 1, 0, -1, -2], 600.7, 4)

# panel (c)
volcano((35, 680, 299.7, 927.3), (-10.98, 10.93), (-.44, 9.0), [-10, -5, 0, 5, 10], [0, 2.5, 5, 7.5], (7.3, 803), (167.7, 951),
        (c_down, c_down_core), (c_up, c_up_core), (c_ns, c_ns_core), (35, 972.7), (306, 814.7), '1.6', yfmt='%.1f')
heatmap(c_vals, c_rows, c_cols, (401, 678.3, 515.7, 996), 520.7, c_tree, 338, (604.7, 678.3, 616, 996.7), stops_bc, [2, 1, 0, -1, -2], 624, 4)

# panel captions
txt(314, 312, '(a)', size=7.2, ha='center')
txt(314, 662, '(b)', size=7.2, ha='center')
txt(314, 1047, '(c)', size=7.2, ha='center')

fig.savefig('out.png', dpi=100)
